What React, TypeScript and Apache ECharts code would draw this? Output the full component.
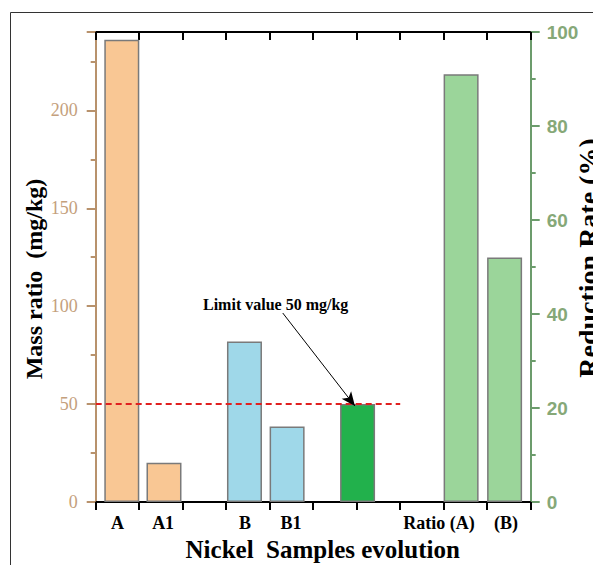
import React, { useEffect, useRef } from "react";
import * as echarts from "echarts";

// ---- data ----
const massLabels = ["A", "A1", "B", "B1", "Limit"];
const massX = [0.6, 1.57, 3.42, 4.4, 6.02];
const massValues = [236, 20, 82, 38.5, 50];

const ratioLabels = ["Ratio (A)", "(B)"];
const ratioX = [8.4, 9.4];
const ratioValues = [91, 52];

const xTickLabels = ["A", "A1", "B", "B1", "Ratio (A)", "(B)"];
const xTickLabelValues = [0.5, 1.55, 3.43, 4.49, 7.89, 9.43];

const leftTicks = [0, 50, 100, 150, 200];
const limitValue = 50;
const limitEndX = 7;
const arrowStart = [4.3, 96.5];
const arrowEnd = [5.96, 49];

// ---- styles ----
const massColors = ["#f9c794", "#f9c794", "#9fd8e9", "#9fd8e9", "#22b14c"];
const ratioColors = ["#9bd59a", "#9bd59a"];
const tan = "#b8926c";
const tanLabel = "#c4a07c";
const green = "#6c9c6c";
const greenLabel = "#86a878";
const serif = "Liberation Serif";

export default function App() {
  const ref = useRef<HTMLDivElement>(null);
  useEffect(() => {
    if (!ref.current) return;
    const chart = echarts.init(ref.current, null, { renderer: "svg" });
    const xCommon = {
      type: "value",
      min: 0,
      max: 10,
      interval: 1,
      splitLine: { show: false },
    };
    const option: any = {
      animation: false,
      grid: {
        left: 95.7,
        right: 62.3,
        top: 32,
        bottom: 63,
        containLabel: false,
        outerBoundsMode: "none",
      },
      graphic: [
        {
          type: "rect",
          shape: { x: 10.5, y: 12.5, width: 800, height: 800 },
          style: { fill: "none", stroke: "#333", lineWidth: 1 },
          silent: true,
        },
        {
          type: "text",
          left: 203,
          top: 296,
          style: {
            text: "Limit value 50 mg/kg",
            font: `bold 16px "${serif}"`,
            fill: "#000",
          },
        },
      ],
      xAxis: [
        {
          ...xCommon,
          position: "bottom",
          name: "Nickel  Samples evolution",
          nameLocation: "middle",
          nameGap: 35,
          nameTextStyle: {
            fontFamily: serif,
            fontWeight: "bold",
            fontSize: 25,
            color: "#000",
            padding: [0, 0, 0, 19],
          },
          axisLine: { onZero: false, lineStyle: { color: "#000", width: 2 } },
          axisTick: { show: true, inside: false, length: 8, lineStyle: { color: "#000", width: 2 } },
          axisLabel: {
            customValues: xTickLabelValues,
            margin: 12,
            fontFamily: serif,
            fontWeight: "bold",
            fontSize: 18,
            color: "#000",
            formatter: (v: number) => {
              const i = xTickLabelValues.findIndex((p) => Math.abs(p - v) < 1e-6);
              return i >= 0 ? xTickLabels[i] : "";
            },
          },
        },
        {
          ...xCommon,
          position: "top",
          axisLine: { onZero: false, lineStyle: { color: "#000", width: 2 } },
          axisTick: { show: true, inside: true, length: 8, lineStyle: { color: "#000", width: 2 } },
          axisLabel: { show: false },
        },
      ],
      yAxis: [
        {
          type: "value",
          position: "left",
          min: 0,
          max: 240,
          interval: 50,
          name: "Mass ratio  (mg/kg)",
          nameLocation: "middle",
          nameRotate: 90,
          nameGap: 50,
          nameMoveOverlap: false,
          nameTextStyle: {
            fontFamily: serif,
            fontWeight: "bold",
            fontSize: 24,
            color: "#000",
            padding: [0, 24, 0, 0],
          },
          splitLine: { show: false },
          axisLine: { show: true, onZero: false, lineStyle: { color: tan, width: 2 } },
          axisTick: { show: true, length: 9, lineStyle: { color: tan, width: 2 } },
          minorTick: { show: true, splitNumber: 2, length: 5, lineStyle: { color: tan, width: 2 } },
          axisLabel: {
            customValues: leftTicks,
            margin: 18,
            fontFamily: serif,
            fontSize: 18,
            color: tanLabel,
          },
        },
        {
          type: "value",
          position: "right",
          min: 0,
          max: 100,
          interval: 20,
          name: "Reduction Rate (%)",
          nameLocation: "middle",
          nameRotate: 90,
          nameGap: 44,
          nameMoveOverlap: false,
          nameTextStyle: {
            fontFamily: serif,
            fontWeight: "bold",
            fontSize: 28,
            color: "#000",
            padding: [0, 0, 0, 18],
          },
          splitLine: { show: false },
          axisLine: { show: true, onZero: false, lineStyle: { color: green, width: 2 } },
          axisTick: { show: true, length: 9, lineStyle: { color: green, width: 2 } },
          minorTick: { show: true, splitNumber: 2, length: 5, lineStyle: { color: green, width: 2 } },
          axisLabel: {
            margin: 16,
            fontFamily: "Liberation Sans",
            fontWeight: "bold",
            fontSize: 19,
            color: greenLabel,
          },
        },
      ],
      series: [
        {
          type: "bar",
          name: "Mass ratio",
          xAxisIndex: 0,
          yAxisIndex: 0,
          barWidth: 35,
          barGap: "-100%",
          itemStyle: { borderColor: "#7a7a7a", borderWidth: 1.5 },
          data: massValues.map((v, i) => ({
            name: massLabels[i],
            value: [massX[i], v],
            itemStyle: { color: massColors[i] },
          })),
          markLine: {
            silent: true,
            animation: false,
            label: { show: false },
            data: [
              [
                {
                  coord: [0, limitValue],
                  symbol: "none",
                  lineStyle: { color: "#e02020", width: 2, type: [6, 4] },
                },
                { coord: [limitEndX, limitValue], symbol: "none" },
              ],
              [
                {
                  coord: arrowStart,
                  symbol: "none",
                  lineStyle: { color: "#000", width: 1, type: "solid" },
                },
                { coord: arrowEnd, symbol: "arrow", symbolSize: [9, 14] },
              ],
            ],
          },
        },
        {
          type: "bar",
          name: "Reduction rate",
          xAxisIndex: 0,
          yAxisIndex: 1,
          barWidth: 35,
          barGap: "-100%",
          itemStyle: { borderColor: "#7a7a7a", borderWidth: 1.5 },
          data: ratioValues.map((v, i) => ({
            name: ratioLabels[i],
            value: [ratioX[i], v],
            itemStyle: { color: ratioColors[i] },
          })),
        },
      ],
    };
    chart.setOption(option);
    return () => chart.dispose();
  }, []);
  return (
    <div
      ref={ref}
      style={{ position: "absolute", left: 0, top: 0, width: 593, height: 565, background: "#fff" }}
    />
  );
}
